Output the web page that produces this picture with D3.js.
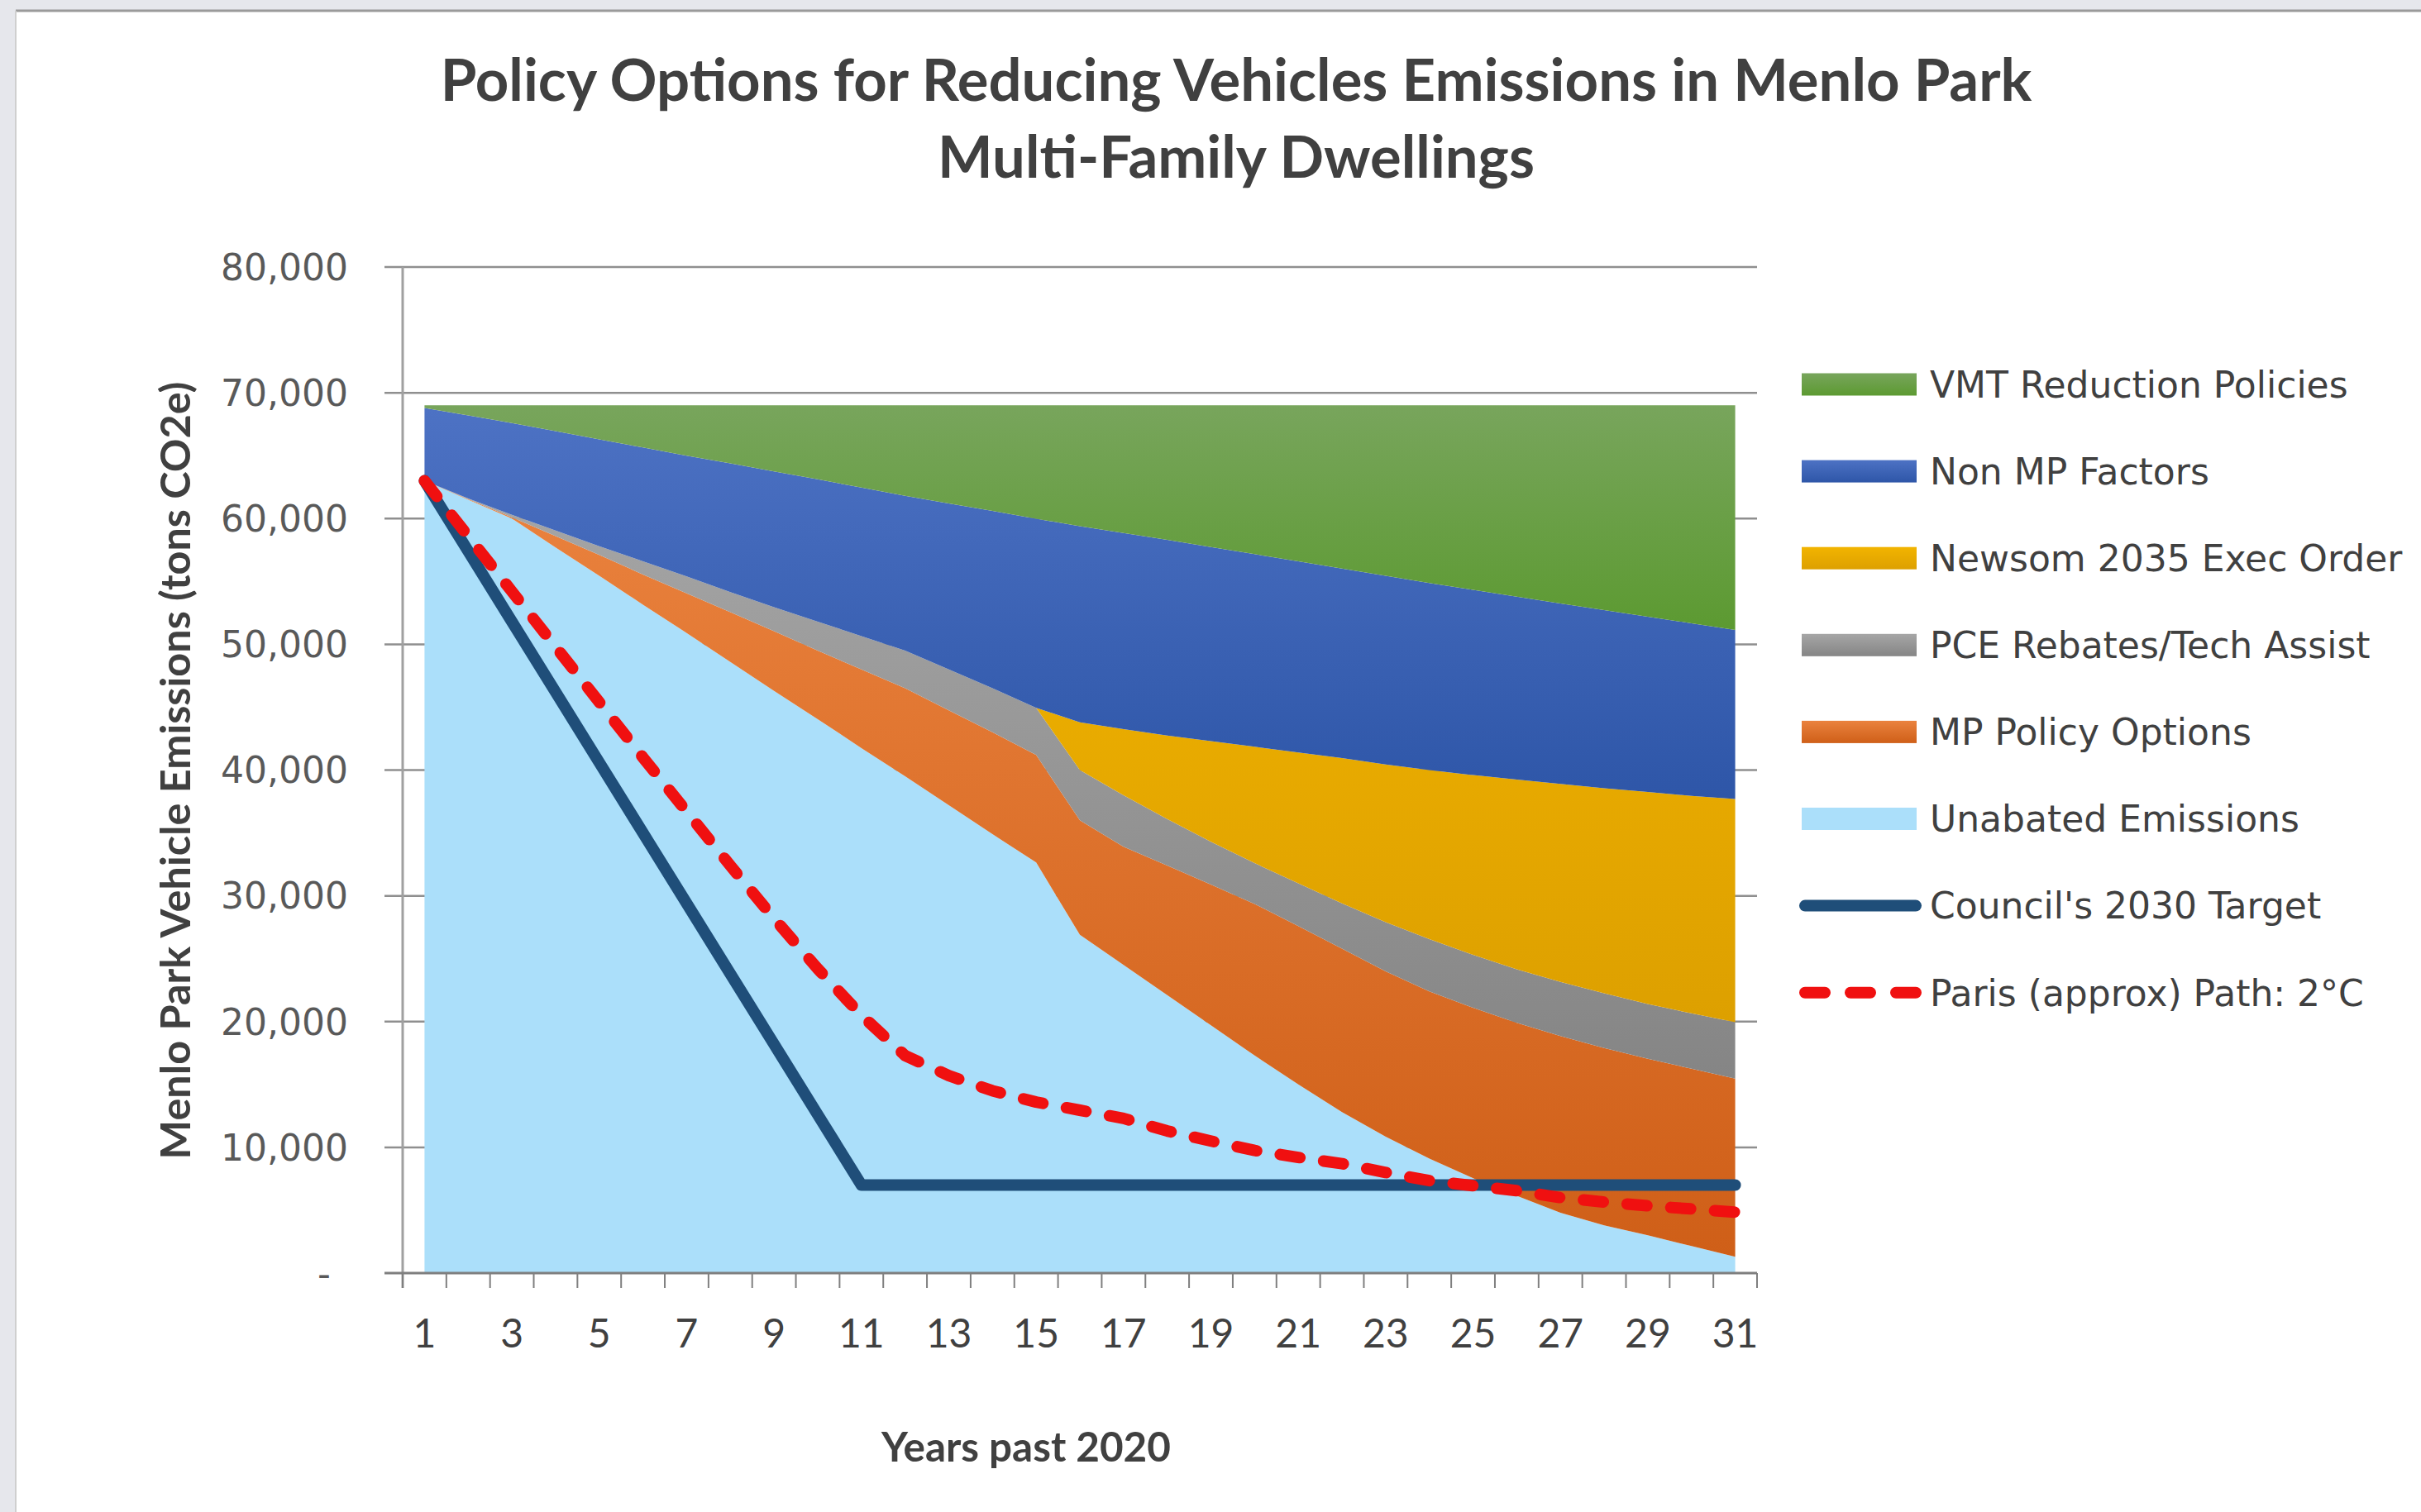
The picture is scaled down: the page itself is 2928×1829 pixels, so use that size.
<!DOCTYPE html>
<html>
<head>
<meta charset="utf-8">
<script src="https://cdn.jsdelivr.net/npm/d3@7/dist/d3.min.js"></script>
<style>
body { margin: 0; background: #e6e7ec; }
</style>
</head>
<body>
<svg id="chart" width="2928" height="1829"></svg>
<script>
// categories (years past 2020)
var years = [1,2,3,4,5,6,7,8,9,10,11,12,13,14,15,16,17,18,19,20,21,22,23,24,25,26,27,28,29,30,31];
var xTickLabels = [1,3,5,7,9,11,13,15,17,19,21,23,25,27,29,31];
var yTicks = [0,10000,20000,30000,40000,50000,60000,70000,80000];

// stacked series (tons CO2e), bottom to top
var unabated = [63000,61500,60000,57700,55450,53150,50900,48600,46300,44050,41750,39500,37200,34900,32650,26900,24500,22100,19700,17300,15000,12800,10850,9100,7550,6150,4800,3800,3000,2150,1300];
var mpPolicy = [0,50,100,900,1650,2400,3150,3950,4750,5450,6250,7000,7550,8100,8550,9100,9400,10300,11200,12050,12600,13000,13150,13300,13550,13750,14050,14100,14050,14100,14170];
var pce = [0,50,200,450,700,1050,1350,1600,1900,2300,2650,3000,3250,3500,3750,4000,4100,3700,3400,3250,3400,3600,3900,4150,4200,4250,4300,4350,4350,4400,4480];
var newsom = [0,0,0,0,0,0,0,0,0,0,0,0,0,0,0,3800,5250,6650,8000,9250,10400,11550,12550,13450,14300,15100,15750,16300,16850,17300,17750];
var nonMP = [5800,6600,7300,7900,8500,9050,9600,10230,10800,11320,11810,12300,13200,14100,15030,15600,15600,15550,15430,15320,15200,15080,15000,14880,14730,14540,14350,14170,13950,13720,13450];
var vmt = [200,800,1400,2050,2700,3350,4000,4620,5250,5880,6540,7200,7800,8400,9020,9600,10150,10700,11270,11830,12400,12970,13550,14120,14670,15210,15750,16280,16800,17330,17850];

// line series
var council = [63000,57400,51800,46200,40600,35000,29400,23800,18200,12600,7000,7000,7000,7000,7000,7000,7000,7000,7000,7000,7000,7000,7000,7000,7000,7000,7000,7000,7000,7000,7000];
var paris = [63000,58600,54200,49800,45400,41000,36700,32400,28200,24200,20500,17300,15700,14500,13600,12950,12300,11300,10500,9750,9200,8700,8000,7350,6950,6550,6000,5650,5350,5100,4850];

var keys = ["unabated","mpPolicy","pce","newsom","nonMP","vmt"];
var seriesData = {unabated: unabated, mpPolicy: mpPolicy, pce: pce, newsom: newsom, nonMP: nonMP, vmt: vmt};
var names = {
    vmt: "VMT Reduction Policies",
    nonMP: "Non MP Factors",
    newsom: "Newsom 2035 Exec Order",
    pce: "PCE Rebates/Tech Assist",
    mpPolicy: "MP Policy Options",
    unabated: "Unabated Emissions"
};
var grads = {
    vmt: ["#78a55c", "#5c9a31"],
    nonMP: ["#4d72c4", "#2e56a8"],
    newsom: ["#f2b400", "#dda000"],
    pce: ["#a6a6a6", "#858585"],
    mpPolicy: ["#ea823e", "#cf5f18"],
    unabated: ["#abdffa", "#abdffa"]
};

var table = years.map(function(yr, i) {
    var row = {year: yr};
    keys.forEach(function(k) { row[k] = seriesData[k][i]; });
    return row;
});

var svg = d3.select("#chart");
var plotLeft = 487, plotRight = 2125, plotTop = 323, plotBottom = 1540;
var textColor = "#404040";

// page frame
svg.append("rect").attr("x", 19).attr("y", 13).attr("width", 2909).attr("height", 1816).attr("fill", "#ffffff");
svg.append("line").attr("x1", 19).attr("x2", 2928).attr("y1", 13).attr("y2", 13).attr("stroke", "#9a9a9a").attr("stroke-width", 3);
svg.append("line").attr("x1", 19).attr("x2", 19).attr("y1", 13).attr("y2", 1829).attr("stroke", "#cfcfcf").attr("stroke-width", 2);

var defs = svg.append("defs");
keys.forEach(function(k) {
    var g = defs.append("linearGradient").attr("id", "g-" + k)
        .attr("x1", 0).attr("y1", 0).attr("x2", 0).attr("y2", 1);
    g.append("stop").attr("offset", "0%").attr("stop-color", grads[k][0]);
    g.append("stop").attr("offset", "100%").attr("stop-color", grads[k][1]);
});

var x = d3.scaleBand().domain(years).range([plotLeft, plotRight]);
function xc(yr) { return x(yr) + x.bandwidth() / 2; }
var y = d3.scaleLinear().domain([0, 80000]).range([plotBottom, plotTop]);

// gridlines (behind the areas)
svg.append("g").selectAll("line")
    .data(yTicks.filter(function(d) { return d > 0; }))
    .join("line")
    .attr("x1", plotLeft - 22).attr("x2", plotRight)
    .attr("y1", function(d) { return y(d); })
    .attr("y2", function(d) { return y(d); })
    .attr("stroke", "#8f8f8f").attr("stroke-width", 2.5);

// stacked areas
var stacked = d3.stack().keys(keys)(table);
var area = d3.area()
    .x(function(d) { return xc(d.data.year); })
    .y0(function(d) { return y(d[0]); })
    .y1(function(d) { return y(d[1]); });

svg.append("g").selectAll("path")
    .data(stacked)
    .join("path")
    .attr("d", area)
    .attr("fill", function(d) { return "url(#g-" + d.key + ")"; });

// y axis
svg.append("line").attr("x1", plotLeft).attr("x2", plotLeft).attr("y1", plotTop).attr("y2", plotBottom + 18)
    .attr("stroke", "#a0a0a0").attr("stroke-width", 3);

svg.append("g")
    .selectAll("text")
    .data(yTicks)
    .join("text")
    .attr("x", function(d) { return d === 0 ? 400 : 421; })
    .attr("y", function(d) { return y(d); })
    .attr("dy", "0.36em")
    .attr("text-anchor", "end")
    .attr("font-family", "DejaVu Sans")
    .attr("font-size", 44)
    .attr("fill", "#595959")
    .text(function(d) { return d === 0 ? "-" : d3.format(",")(d); });

// x axis
svg.append("line").attr("x1", plotLeft - 22).attr("x2", plotRight).attr("y1", plotBottom).attr("y2", plotBottom)
    .attr("stroke", "#7f7f7f").attr("stroke-width", 3);

var bounds = years.map(function(yr) { return x(yr); }).concat([plotRight]);
svg.append("g").selectAll("line")
    .data(bounds)
    .join("line")
    .attr("x1", function(d) { return d; }).attr("x2", function(d) { return d; })
    .attr("y1", plotBottom).attr("y2", plotBottom + 18)
    .attr("stroke", "#7f7f7f").attr("stroke-width", 2);

svg.append("g")
    .selectAll("text")
    .data(xTickLabels)
    .join("text")
    .attr("x", function(d) { return xc(d); })
    .attr("y", 1630)
    .attr("text-anchor", "middle")
    .attr("font-family", "Lato")
    .attr("font-size", 48)
    .attr("fill", textColor)
    .text(function(d) { return d; });

// lines
var line = d3.line()
    .x(function(d, i) { return xc(years[i]); })
    .y(function(d) { return y(d); });

svg.append("path").attr("d", line(council))
    .attr("fill", "none").attr("stroke", "#1f4e79").attr("stroke-width", 14)
    .attr("stroke-linecap", "round").attr("stroke-linejoin", "round");

svg.append("path").attr("d", line(paris))
    .attr("fill", "none").attr("stroke", "#f01010").attr("stroke-width", 14)
    .attr("stroke-linecap", "round").attr("stroke-linejoin", "round")
    .attr("stroke-dasharray", "24 29");

// titles
function fit(sel, w) {
    var len = sel.node().getComputedTextLength();
    var fs = parseFloat(sel.attr("font-size"));
    sel.attr("font-size", fs * w / len);
}

var t1 = svg.append("text").attr("x", 1495).attr("y", 122).attr("text-anchor", "middle")
    .attr("font-family", "Lato").attr("font-weight", "bold").attr("font-size", 62)
    .attr("fill", textColor).text("Policy Options for Reducing Vehicles Emissions in Menlo Park");
fit(t1, 1925);
var t2 = svg.append("text").attr("x", 1495).attr("y", 215).attr("text-anchor", "middle")
    .attr("font-family", "Lato").attr("font-weight", "bold").attr("font-size", 62)
    .attr("fill", textColor).text("Multi-Family Dwellings");
fit(t2, 722);

var yt = svg.append("text").attr("transform", "translate(230,932) rotate(-90)")
    .attr("text-anchor", "middle")
    .attr("font-family", "Lato").attr("font-weight", "bold").attr("font-size", 48)
    .attr("fill", textColor).text("Menlo Park Vehicle Emissions (tons CO2e)");
fit(yt, 941);

var xt = svg.append("text").attr("x", 1241).attr("y", 1768).attr("text-anchor", "middle")
    .attr("font-family", "Lato").attr("font-weight", "bold").attr("font-size", 48)
    .attr("fill", textColor).text("Years past 2020");
fit(xt, 350);

// legend
var legendKeys = ["vmt","nonMP","newsom","pce","mpPolicy","unabated"];
var legend = svg.append("g").attr("transform", "translate(2179,465)");
var rowH = 105.1;

legendKeys.forEach(function(k, i) {
    var g = legend.append("g").attr("transform", "translate(0," + (i * rowH) + ")");
    g.append("rect").attr("x", 0).attr("y", -13.5).attr("width", 139).attr("height", 27)
        .attr("fill", "url(#g-" + k + ")");
    g.append("text").attr("x", 155).attr("dy", "0.36em")
        .attr("font-family", "DejaVu Sans").attr("font-size", 44).attr("fill", textColor)
        .text(names[k]);
});

var gc = legend.append("g").attr("transform", "translate(0," + (6 * rowH) + ")");
gc.append("line").attr("x1", 4).attr("x2", 138).attr("stroke", "#1f4e79").attr("stroke-width", 14).attr("stroke-linecap", "round");
gc.append("text").attr("x", 155).attr("dy", "0.36em")
    .attr("font-family", "DejaVu Sans").attr("font-size", 44).attr("fill", textColor)
    .text("Council's 2030 Target");

var gp = legend.append("g").attr("transform", "translate(0," + (7 * rowH) + ")");
gp.append("line").attr("x1", 4).attr("x2", 140).attr("stroke", "#f01010").attr("stroke-width", 14)
    .attr("stroke-linecap", "round").attr("stroke-dasharray", "24 31");
gp.append("text").attr("x", 155).attr("dy", "0.36em")
    .attr("font-family", "DejaVu Sans").attr("font-size", 44).attr("fill", textColor)
    .text("Paris (approx) Path: 2°C");
</script>
</body>
</html>
